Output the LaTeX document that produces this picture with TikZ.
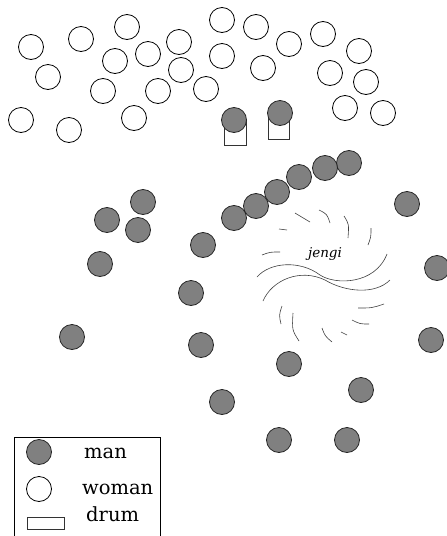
\documentclass[tikz,border=0pt]{standalone}
\usepackage{fontspec}
\setmainfont{DejaVu Serif}
\begin{document}
\begin{tikzpicture}[x=1pt,y=-1pt,
  woman/.style={circle,draw=black,line width=0.8pt,minimum size=25pt,inner sep=0pt,fill=white},
  man/.style={circle,draw=black!85,line width=0.8pt,minimum size=25pt,inner sep=0pt,fill=black!50},
  drumbox/.style={draw=black!80,line width=0.7pt,fill=white},
  swirl/.style={draw=black!75,line width=0.6pt},
  legtext/.style={anchor=base west,inner sep=0pt,font=\fontsize{19.5}{20}\selectfont}]
\useasboundingbox (0,0) rectangle (447,536);
% women
\foreach \n/\x/\y in {w1/31/47,w2/81/39,w3/127/27,w4/48/77,w5/115/61,w6/148/54,w7/179/42,
  w8/222/20,w9/256/27,w10/289/44,w11/323/34,w12/359/51,w13/181/70,w14/222/56,w15/263/68,
  w16/330/73,w17/366/82,w18/103/91,w19/158/91,w20/206/89,w21/21/120,w22/69/130,w23/134/118,
  w24/345/108,w25/383/113}
  \node[woman] (\n) at (\x,\y) {};
% drums with drummers
\draw[drumbox] (224,120) rectangle (246,145);
\draw[drumbox] (268,113) rectangle (289,139);
\node[man] (d1) at (234,120) {};
\node[man] (d2) at (280,113) {};
% men
\foreach \n/\x/\y in {m1/349/163,m2/325/168,m3/299/177,m4/277/192,m5/256/206,m6/234/218,
  m7/203/245,m8/191/293,m9/143/202,m10/107/220,m11/138/230,m12/100/264,m13/407/204,
  m14/437/268,m15/72/337,m16/201/345,m17/289/364,m18/431/340,m19/361/390,m20/222/402,
  m21/279/440,m22/347/440}
  \node[man] (\n) at (\x,\y) {};
% jengi swirl
\node[font=\itshape\fontsize{13.5}{14}\selectfont,inner sep=0pt] (jengi) at (325,254) {jengi};
\draw[swirl] (257,277) .. controls (270,262) and (300,260) .. (320,275)
  .. controls (335,285) and (375,285) .. (387,254);
\draw[swirl] (263,301) .. controls (272,280) and (300,268) .. (325,280)
  .. controls (345,292) and (375,295) .. (390,280);
\draw[swirl] (295,213) .. controls (303,217) .. (310,222);
\draw[swirl] (319,210) .. controls (327,214) .. (330,223);
\draw[swirl] (344,216) .. controls (349,224) .. (348,238);
\draw[swirl] (371,228) .. controls (371,237) .. (368,245);
\draw[swirl] (279,229) -- (287,230);
\draw[swirl] (262,255) .. controls (270,252) .. (280,252);
\draw[swirl] (282,306) .. controls (279,315) .. (281,324);
\draw[swirl] (293,313) .. controls (292,330) .. (299,341);
\draw[swirl] (322,328) .. controls (325,336) .. (332,342);
\draw[swirl] (341,332) -- (347,335);
\draw[swirl] (352,320) .. controls (360,324) .. (369,324);
\draw[swirl] (358,308) .. controls (372,308) .. (384,304);
% legend
\draw[line width=0.7pt] (14,536) -- (14,437) -- (160,437) -- (160,536);
\node[man] (lman) at (39,452) {};
\node[woman] (lwoman) at (39,489) {};
\draw[drumbox] (27,517) rectangle (64,529);
\node[legtext] (tman) at (84,458) {man};
\node[legtext] (twoman) at (82,494) {woman};
\node[legtext] (tdrum) at (86,521) {drum};
\end{tikzpicture}
\end{document}
